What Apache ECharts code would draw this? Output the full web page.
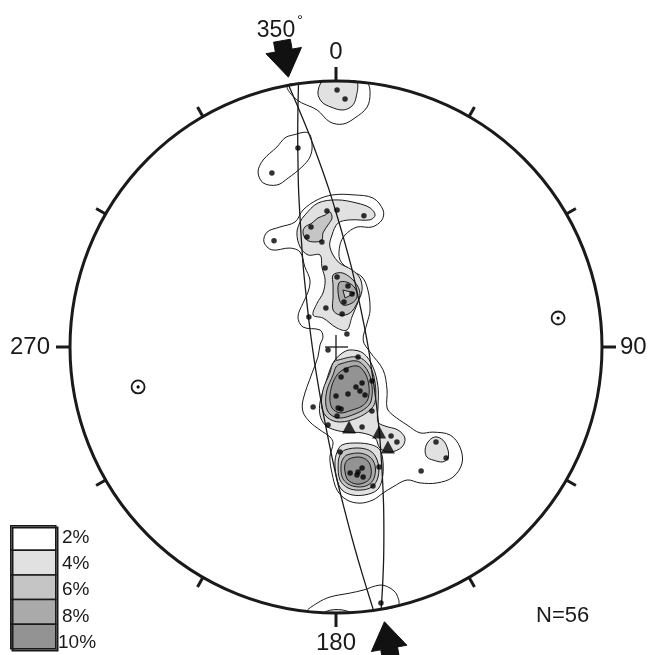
<!DOCTYPE html>
<html>
<head>
<meta charset="utf-8">
<script src="https://cdn.jsdelivr.net/npm/echarts/dist/echarts.min.js"></script>
<style>html,body{margin:0;padding:0;background:#fff}#c{width:651px;height:655px}</style>
</head>
<body>
<div id="c"></div>
<script>
// ---- Net geometry (net units: primitive circle radius = 100) ----
const NET_R = 100;
const tickAzimuths = [0, 30, 60, 90, 120, 150, 180, 210, 240, 270, 300, 330];
const cardinalAzimuths = [0, 90, 180, 270];
const cardinalLabels = ['0', '90', '180', '270'];
const strikeArrowAzimuths = [350, 170];
const strikeLabel = '350';
const sampleLabel = 'N=56';

// ---- Legend ----
const levelLabels = ['2%', '4%', '6%', '8%', '10%'];
const levelColors = ['#ffffff', '#e1e1e1', '#c5c5c5', '#aaaaaa', '#939393'];

// ---- Poles (net x, net y) ----
const poles = [[0.4,96.6],[3.4,93.2],[-14.3,74.8],[-24.1,65.4],[-3.4,51.1],[0.4,51.5],[10.5,49.3],[-9.4,45.1],[-10.9,41.4],[-5.3,39.5],[-23.3,39.9],[-4.1,29.7],[0.4,26.3],[4.5,22.9],[6.0,19.9],[3.0,16.9],[-3.8,14.7],[2.3,12.4],[-10.2,11.3],[4.1,4.9],[-3.0,-1.1],[8.3,-3.8],[3.8,-8.6],[1.9,-11.3],[13.5,-12.8],[9.8,-13.5],[7.5,-15.0],[9.0,-16.5],[4.5,-17.7],[0,-18.4],[10.9,-18.0],[-8.6,-22.6],[0.8,-22.9],[1.9,-23.3],[13.5,-24.1],[0.4,-25.9],[-3.0,-29.3],[9.8,-30.1],[20.7,-33.5],[22.9,-35.7],[37.6,-35.7],[41.4,-41.7],[32.0,-46.6],[1.5,-39.5],[16.2,-45.1],[9.8,-45.5],[8.3,-47.0],[7.9,-48.1],[10.2,-48.9],[5.3,-47.4],[13.9,-52.3],[16.9,-96.2]];
const betaPoints = [[4.9,-30.1],[16.2,-32.0],[19.5,-37.6]];
const circledPoints = [[83.5,10.9],[-74.4,-15.0]];

// ---- Great circles ----
const greatCircleA = [[-17.8,98.4],[-14.2,90],[-10.1,80],[-6.4,70],[-2.9,60],[0.2,50],[3.1,40],[5.8,30],[8.1,20],[10.2,10],[12.1,0],[13.6,-10],[15.0,-20],[16.1,-30],[16.9,-40],[17.5,-50],[17.9,-60],[18.0,-70],[17.9,-80],[17.5,-90],[17.0,-98.5]];
const greatCircleB = [[-14.1,99],[-14.3,90],[-14.4,80],[-14.3,70],[-14.1,60],[-13.6,50],[-13.0,40],[-12.3,30],[-11.3,20],[-10.2,10],[-8.9,0],[-7.4,-10],[-5.7,-20],[-3.8,-30],[-1.8,-40],[0.4,-50],[2.9,-60],[5.5,-70],[8.3,-80],[11.3,-90],[14.1,-99]];

// ---- Density contours ----
const contour2Top = [[-18.4,98.2],[-14.7,92.9],[-7.1,89.1],[-2.3,84.6],[2.6,83.8],[7.1,86.1],[11.7,90.2],[12.8,95.5],[11.7,99.3],[6,99.8],[0,100],[-6,99.8],[-12,99.3]];
const contour2Loop = [[-16.2,79.7],[-10.5,80.5],[-9.0,76.0],[-9.8,71.4],[-12.8,67.7],[-18.0,63.5],[-22.2,60.9],[-27.4,61.7],[-29.3,65.8],[-27.4,70.3],[-22.2,75.2],[-19.2,78.6]];
const contour2Main = [[-12.4,51.5],[-7.1,55.3],[-1.1,57.2],[6.4,57.2],[13.9,56.0],[17.7,51.5],[17.3,47.8],[13.5,45.1],[7.9,45.1],[3.4,42.1],[1.5,38.4],[1.5,32.7],[5.3,29.0],[9.8,26.3],[12.0,21.4],[12.8,13.9],[11.7,9.0],[10.2,2.6],[12.8,-1.9],[17.7,-8.6],[19.2,-16.2],[19.2,-22.9],[21.4,-25.6],[26.7,-29.3],[31.6,-32.3],[36.5,-32.0],[42.9,-33.1],[46.6,-37.6],[47.4,-43.6],[44.0,-48.9],[38.0,-51.1],[31.6,-51.1],[26.7,-50.0],[21.4,-52.6],[17.7,-54.9],[13.9,-57.5],[9.0,-58.7],[4.1,-57.5],[0.4,-53.8],[-1.5,-47.4],[-2.3,-41.4],[-1.1,-36.1],[-2.3,-33.8],[-6.0,-31.2],[-9.8,-28.2],[-12.4,-24.4],[-12.4,-19.9],[-9.0,-9.8],[-6.8,-3.8],[-6.0,0.8],[-4.9,3.8],[-6.0,6.4],[-12.4,7.5],[-14.3,11.3],[-12.4,16.5],[-10.5,20.7],[-9.8,25.2],[-11.7,30.1],[-13.5,35.7],[-17.3,37.2],[-24.1,36.5],[-27.1,39.5],[-25.9,43.2],[-21.1,45.1],[-15.4,47.0]];
const contour2Bottom = [[-10.9,-99.4],[-7.1,-96.3],[-2.3,-94.0],[5.3,-92.5],[10.2,-91.4],[16.5,-89.5],[20.3,-90.6],[22.9,-93.2],[23.3,-97.2],[15,-98.9],[5,-99.9],[-5,-99.9]];

const contour4Top = [[-5.3,99.8],[-6.8,95.5],[-5.3,92.1],[-1.9,90.2],[2.6,89.1],[6.0,90.6],[7.5,93.6],[7.9,99.7],[4,99.9],[0,100],[-3,99.95]];
const contour4Upper = [[-11.7,49.6],[-6.8,54.1],[0.4,55.3],[7.9,54.1],[12.8,52.3],[14.7,49.6],[12.8,47.8],[5.3,47.8],[0.8,46.6],[-1.5,42.1],[-2.3,37.6],[0.8,32.0],[6.0,29.0],[9.0,25.9],[9.8,21.4],[8.3,16.9],[6.0,11.3],[4.1,6.4],[0.4,7.1],[-4.9,10.9],[-8.6,12.0],[-7.1,16.5],[-4.9,20.3],[-4.1,25.2],[-5.3,30.1],[-6.0,34.6],[-10.5,34.6],[-13.5,37.6],[-14.7,42.9],[-13.5,47.0]];
const contour4LowerMid = [[2.3,-2.3],[5.3,-1.1],[10.2,-2.3],[13.9,-7.5],[15.8,-15.0],[15.8,-22.6],[15.8,-28.2],[18.4,-29.7],[23.3,-31.2],[25.9,-34.2],[24.8,-37.6],[20.3,-39.5],[16.5,-38.0],[14.7,-34.2],[9.8,-32.3],[4.5,-32.0],[-0.4,-31.2],[-4.1,-29.3],[-6.0,-25.6],[-6.0,-20.7],[-4.1,-14.3],[-2.3,-8.6],[-0.4,-4.9]];
const contour4Lower = [[2.3,-36.8],[7.9,-36.1],[13.5,-36.8],[16.5,-38.7],[17.7,-43.6],[17.3,-50.0],[15.4,-53.8],[10.9,-55.6],[6.0,-55.6],[2.3,-53.8],[0.4,-50.0],[-0.4,-43.6],[0.4,-39.5]];
const contour4Right = [[37.2,-33.8],[40.2,-35.0],[42.1,-38.7],[42.1,-41.7],[40.2,-43.2],[36.5,-42.5],[34.2,-41.4],[33.5,-38.7],[34.6,-35.7]];
const contour4Bottom = [[-4.5,-99.9],[-2,-98.9],[2,-98.8],[5.5,-99.85],[0,-100]];

const contour6Upper = [[-9.0,46.6],[-6.8,48.5],[-4.1,49.6],[-2.3,50.8],[-1.5,48.5],[-3.0,45.9],[-4.9,42.9],[-5.3,40.2],[-7.9,39.5],[-10.9,40.2],[-12.4,42.9],[-11.7,45.1]];
const contour6Middle = [[-1.1,27.1],[2.6,27.8],[7.1,24.4],[9.0,20.3],[7.9,16.5],[5.3,12.8],[1.5,12.0],[-1.1,13.9],[-1.1,18.8],[-1.1,23.3]];
const contour6LowerMid = [[0.8,-4.9],[8.3,-3.8],[12.8,-7.5],[14.7,-13.5],[14.7,-20.7],[12.8,-23.7],[7.9,-26.7],[1.5,-28.2],[-3.0,-26.7],[-5.3,-22.9],[-4.9,-16.2],[-2.3,-9.8],[-1.1,-6.0]];
const contour6Lower = [[3.4,-38.7],[9.0,-38.0],[13.5,-39.5],[15.8,-43.6],[15.8,-48.9],[13.5,-52.6],[9.0,-53.8],[4.5,-53.0],[1.5,-50.0],[0.8,-44.4],[1.5,-40.6]];

const contour8Middle = [[1.1,24.1],[4.1,24.4],[7.1,22.2],[7.9,18.8],[6.0,16.5],[2.6,15.8],[1.1,18.4]];
const contour8LowerMid = [[1.5,-6.4],[7.9,-5.3],[11.7,-8.6],[13.5,-14.3],[13.2,-20.3],[11.3,-22.9],[7.1,-25.2],[1.5,-26.7],[-2.3,-25.2],[-3.8,-21.8],[-3.4,-16.2],[-1.1,-10.5],[0,-7.5]];
const contour8Lower = [[4.1,-40.6],[9.0,-39.9],[12.8,-41.4],[14.7,-44.7],[14.3,-49.3],[12.0,-51.9],[8.3,-52.6],[4.5,-51.5],[2.3,-48.9],[1.9,-44.4],[2.6,-42.1]];

const contour10LowerMid = [[2.6,-8.6],[7.9,-7.1],[10.9,-9.8],[12.4,-14.7],[12.0,-19.6],[9.8,-22.2],[6.0,-23.7],[1.5,-24.8],[-1.5,-22.9],[-2.3,-19.2],[-1.5,-14.3],[0.4,-10.5]];
const contour10Lower = [[4.9,-42.1],[9.0,-41.4],[12.0,-42.9],[13.2,-45.9],[12.8,-49.3],[10.5,-51.1],[7.5,-51.5],[4.5,-50.0],[3.4,-47.0],[3.4,-44.0]];

const innerTriangle = [[2.6,21.4],[7.1,20.3],[3.4,18.4]];

// contour array with its density level index
const contourLayers = [
  [contour2Main, 0], [contour2Top, 0], [contour2Loop, 0], [contour2Bottom, 0],
  [contour4Top, 1], [contour4Upper, 1], [contour4LowerMid, 1], [contour4Lower, 1], [contour4Right, 1], [contour4Bottom, 1],
  [contour6Upper, 2], [contour6Middle, 2], [contour6LowerMid, 2], [contour6Lower, 2],
  [contour8Middle, 3], [contour8LowerMid, 3], [contour8Lower, 3],
  [contour10LowerMid, 4], [contour10Lower, 4]
];

const FONT = '"Liberation Sans", Arial, sans-serif';
const INK = '#1a1a1a';

function contourSeries(points, level, z, fillOverride) {
  return {
    type: 'custom', coordinateSystem: 'cartesian2d', z: z, silent: true, clip: false,
    data: points, encode: { x: 0, y: 1 },
    renderItem: function (params, api) {
      if (params.dataIndex !== 0) return null;
      return {
        type: 'polygon',
        shape: { points: points.map(p => api.coord(p)), smooth: fillOverride ? 0 : 0.35 },
        style: { fill: fillOverride || levelColors[level], stroke: INK, lineWidth: 1 }
      };
    }
  };
}

const series = [];
contourLayers.forEach(([pts, lvl]) => series.push(contourSeries(pts, lvl, 2 + lvl)));
series.push(contourSeries(innerTriangle, 2, 7, '#cdcdcd'));

// great circles
[greatCircleA, greatCircleB].forEach(gc => series.push({
  type: 'line', data: gc, smooth: 0.3, symbol: 'none', silent: true, z: 8,
  lineStyle: { color: INK, width: 1.3 }
}));

// centre cross
series.push({
  type: 'custom', coordinateSystem: 'cartesian2d', z: 8, silent: true, clip: false,
  data: [[0, 0]], encode: { x: 0, y: 1 },
  renderItem: function (params, api) {
    const c = api.coord([0, 0]);
    return { type: 'group', children: [
      { type: 'line', shape: { x1: c[0] - 11, y1: c[1], x2: c[0] + 12, y2: c[1] }, style: { stroke: INK, lineWidth: 1.3 } },
      { type: 'line', shape: { x1: c[0], y1: c[1] - 12, x2: c[0], y2: c[1] + 13 }, style: { stroke: INK, lineWidth: 1.3 } }
    ]};
  }
});

// poles
series.push({ type: 'scatter', data: poles, symbol: 'circle', symbolSize: 5.5, silent: true, z: 9,
  itemStyle: { color: '#000' } });
series.push({ type: 'scatter', data: betaPoints, symbol: 'triangle', symbolSize: [14, 13], silent: true, z: 9,
  itemStyle: { color: '#000' } });

// circled points
series.push({
  type: 'custom', coordinateSystem: 'cartesian2d', z: 9, silent: true, clip: false,
  data: circledPoints, encode: { x: 0, y: 1 },
  renderItem: function (params, api) {
    const c = api.coord([api.value(0), api.value(1)]);
    return { type: 'group', children: [
      { type: 'circle', shape: { cx: c[0], cy: c[1], r: 6.5 }, style: { fill: '#fff', stroke: INK, lineWidth: 1.8 } },
      { type: 'circle', shape: { cx: c[0], cy: c[1], r: 1.6 }, style: { fill: '#000' } }
    ]};
  }
});

// primitive circle, ticks, labels
series.push({
  type: 'custom', coordinateSystem: 'cartesian2d', z: 10, silent: true, clip: false,
  data: [[0, 0]], encode: { x: 0, y: 1 },
  renderItem: function (params, api) {
    const c = api.coord([0, 0]);
    const R = api.coord([NET_R, 0])[0] - c[0];
    const children = [{ type: 'circle', shape: { cx: c[0], cy: c[1], r: R }, style: { fill: 'none', stroke: INK, lineWidth: 3 } }];
    tickAzimuths.forEach(az => {
      const card = cardinalAzimuths.indexOf(az) >= 0;
      const len = card ? 14 : 11;
      const a = az * Math.PI / 180, dx = Math.sin(a), dy = -Math.cos(a);
      children.push({ type: 'line', shape: { x1: c[0] + dx * (R - 1), y1: c[1] + dy * (R - 1), x2: c[0] + dx * (R + len), y2: c[1] + dy * (R + len) },
        style: { stroke: INK, lineWidth: 3 } });
    });
    const gaps = [3, 4, 4, 6];
    cardinalAzimuths.forEach((az, i) => {
      const a = az * Math.PI / 180, dx = Math.sin(a), dy = -Math.cos(a);
      const d = R + 14 + gaps[i];
      const align = dx > 0.5 ? 'left' : (dx < -0.5 ? 'right' : 'center');
      const valign = dy < -0.5 ? 'bottom' : (dy > 0.5 ? 'top' : 'middle');
      children.push({ type: 'text', x: c[0] + dx * d, y: c[1] + dy * d,
        style: { text: cardinalLabels[i], font: '24px ' + FONT, fill: INK, align: align, verticalAlign: valign } });
    });
    return { type: 'group', children: children };
  }
});

// strike arrows
series.push({
  type: 'custom', coordinateSystem: 'cartesian2d', z: 11, silent: true, clip: false,
  data: strikeArrowAzimuths.map(a => [a]),
  renderItem: function (params, api) {
    const i = params.dataIndex;
    const az = strikeArrowAzimuths[i];
    const c = api.coord([0, 0]);
    const R = api.coord([NET_R, 0])[0] - c[0];
    const a = az * Math.PI / 180, dx = Math.sin(a), dy = -Math.cos(a);
    const gap = i === 0 ? 8 : 13;
    const tip = [c[0] + dx * (R + gap), c[1] + dy * (R + gap)];
    const px = -dy, py = dx;
    const P = (t, s) => [tip[0] + dx * t + px * s, tip[1] + dy * t + py * s];
    const headL = 27, headW = 18, shaftW = 8.5, len = i === 0 ? 37 : 48;
    const pts = [P(0, 0), P(headL, headW), P(headL, shaftW), P(len, shaftW), P(len, -shaftW), P(headL, -shaftW), P(headL, -headW)];
    const children = [{ type: 'polygon', shape: { points: pts }, style: { fill: '#111', stroke: '#111', lineWidth: 1 } }];
    if (i === 0) {
      const t = P(len, 0);
      children.push({ type: 'text', x: t[0] - 6, y: t[1] + 1, style: { text: strikeLabel, font: '23px ' + FONT, fill: INK, align: 'center', verticalAlign: 'bottom' } });
      children.push({ type: 'text', x: t[0] + 15, y: t[1] - 27, style: { text: '°', font: '15px ' + FONT, fill: INK, align: 'left', verticalAlign: 'top' } });
    }
    return { type: 'group', children: children };
  }
});

const legendGraphics = [];
const LX = 10, LY = 525, LW = 45, LH = 24.6;
levelLabels.forEach((lab, i) => {
  legendGraphics.push({ type: 'rect', left: LX, top: LY + i * LH, shape: { width: LW, height: LH },
    style: { fill: levelColors[i], stroke: INK, lineWidth: 1.5 } });
  legendGraphics.push({ type: 'text', left: i === 4 ? 58 : 62, top: LY + 3 + i * 26.3,
    style: { text: lab, font: '19px ' + FONT, fill: INK } });
});
legendGraphics.push({ type: 'rect', left: LX, top: LY, shape: { width: LW, height: LH * 5 },
  style: { fill: 'none', stroke: INK, lineWidth: 2 } });
legendGraphics.push({ type: 'text', left: 536, top: 605, style: { text: sampleLabel, font: '22px ' + FONT, fill: INK } });

const chart = echarts.init(document.getElementById('c'), null, { renderer: 'canvas' });
chart.setOption({
  animation: false,
  backgroundColor: '#ffffff',
  grid: { left: 70, top: 81, width: 532, height: 532 },
  xAxis: { type: 'value', min: -100, max: 100, show: false },
  yAxis: { type: 'value', min: -100, max: 100, show: false },
  graphic: legendGraphics,
  series: series
});
</script>
</body>
</html>
